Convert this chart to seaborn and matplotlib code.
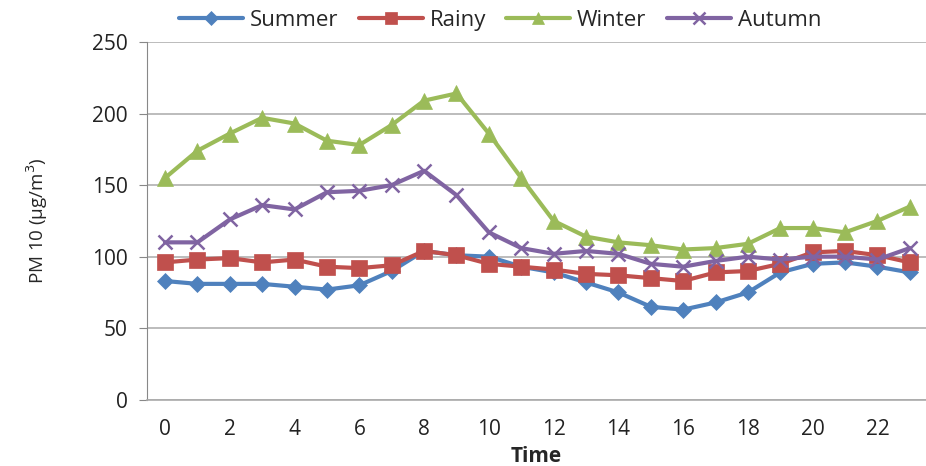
import numpy as np
import pandas as pd
import matplotlib
matplotlib.use("Agg")
import matplotlib.pyplot as plt
from matplotlib.lines import Line2D
import seaborn as sns

hours = list(range(24))
summer = [83, 81, 81, 81, 79, 77, 80, 90, 104, 101, 100, 93, 89, 82, 75, 65, 63, 68, 75, 89, 95, 96, 93, 89]
rainy = [96, 98, 99, 96, 98, 93, 92, 94, 104, 101, 95, 93, 91, 88, 87, 85, 83, 89, 90, 95, 103, 104, 101, 96]
winter = [155, 174, 186, 197, 193, 181, 178, 192, 209, 214, 186, 155, 125, 114, 110, 108, 105, 106, 109, 120, 120, 117, 125, 135]
autumn = [110, 110, 126, 136, 133, 145, 146, 150, 160, 143, 117, 106, 102, 104, 102, 95, 93, 97, 100, 98, 100, 100, 98, 106]

seasons = ["Summer", "Rainy", "Winter", "Autumn"]
colors = {"Summer": "#4F81BD", "Rainy": "#C0504D", "Winter": "#9BBB59", "Autumn": "#8064A2"}
markers = {"Summer": "D", "Rainy": "s", "Winter": "^", "Autumn": "x"}
msizes = {"Summer": 8, "Rainy": 11, "Winter": 11, "Autumn": 10}

df = pd.DataFrame({"Time": hours * 4,
                   "PM10": summer + rainy + winter + autumn,
                   "Season": np.repeat(seasons, 24)})

sns.set_style("white")
plt.rcParams["font.family"] = ["Open Sans", "DejaVu Sans"]

fig = plt.figure(figsize=(9.26, 4.66), dpi=100)
ax = fig.add_axes([0.159, 0.142, 0.841, 0.768])

handles = []
for s in seasons:
    sub = df[df["Season"] == s]
    mew = 1.8 if s == "Autumn" else 0.5
    sns.lineplot(data=sub, x="Time", y="PM10", ax=ax, color=colors[s], linewidth=3,
                 marker=markers[s], markersize=msizes[s], markeredgecolor=colors[s],
                 markeredgewidth=mew, zorder=3)
    handles.append(Line2D([], [], color=colors[s], linewidth=3, marker=markers[s],
                          markersize=msizes[s] * 0.85, markeredgecolor=colors[s],
                          markeredgewidth=mew, label=s))

ax.set_ylim(0, 250)
ax.set_xlim(-0.55, 23.3)
ax.set_yticks(range(0, 251, 50))
ax.yaxis.grid(True, color="#b0b0b0", linewidth=1.2)
ax.set_axisbelow(True)

ax.set_xticks(range(0, 24, 2))
ax.set_xticks(np.arange(-0.5, 24, 2), minor=True)
ax.tick_params(axis="x", which="major", length=0, labelsize=15, colors="#222222", pad=14)
ax.tick_params(axis="x", which="minor", length=7, color="#888888", direction="out")
ax.tick_params(axis="y", length=6, color="#888888", direction="out", labelsize=15,
               colors="#222222", pad=8, left=True)

for sp in ["top", "right"]:
    ax.spines[sp].set_visible(False)
ax.spines["left"].set_color("#888888")
ax.spines["bottom"].set_color("#aaaaaa")
ax.spines["bottom"].set_linewidth(1.2)

ax.set_xlabel("Time", fontsize=15, fontweight="bold", labelpad=4)
ax.set_ylabel("PM 10 (\u03bcg/m$^3$)", fontsize=13.5, labelpad=30)

ax.legend(handles=handles, loc="center", bbox_to_anchor=(0.453, 1.061), ncol=4,
          frameon=False, fontsize=16, handlelength=2.9, columnspacing=0.9,
          handletextpad=0.3, borderpad=0)

fig.savefig("out.png", dpi=100)
